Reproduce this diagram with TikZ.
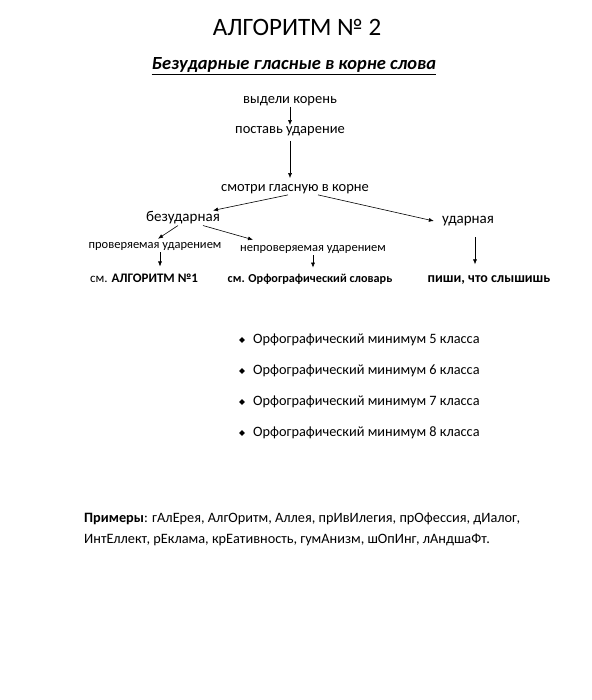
\documentclass[tikz,border=0pt]{standalone}
\usepackage{fontspec}
\setmainfont{Carlito}
\usetikzlibrary{arrows.meta,shapes.geometric,calc}
\tikzset{
  txt/.style={inner sep=1pt, font=\fontsize{14.5}{16}\selectfont},
  small/.style={inner sep=1pt, font=\fontsize{12.5}{14}\selectfont},
  bld/.style={inner sep=1pt, font=\fontsize{13}{15}\selectfont\bfseries},
  arr/.style={line width=0.6pt, -{Latex[length=5pt,width=4pt]}},
  bul/.style={diamond, fill=black, inner sep=0pt, minimum size=6pt},
  item/.style={anchor=west, inner sep=0pt, font=\fontsize{14.3}{16}\selectfont},
  ex/.style={anchor=west, inner sep=0pt, font=\fontsize{14.3}{16}\selectfont}
}
\begin{document}
\begin{tikzpicture}[x=1pt,y=-1pt]
\useasboundingbox (0,0) rectangle (591,700);
\fill[white] (0,0) rectangle (591,700);
\node[inner sep=0pt, font=\fontsize{25}{30}\selectfont] (title) at (297,27) {АЛГОРИТМ № 2};
\node[inner sep=0pt, font=\fontsize{18.5}{20}\selectfont\bfseries\itshape] (sub) at (294,65) {Безударные гласные в корне слова};
\draw[line width=0.9pt] ([yshift=-2pt]sub.south west) -- ([yshift=-2pt]sub.south east);

\node[txt] (n1) at (290,101) {выдели корень};
\node[txt] (n2) at (290,131) {поставь ударение};
\node[txt] (n3) at (295,189) {смотри гласную в корне};
\node[inner sep=1pt, font=\fontsize{15}{17}\selectfont] (bez) at (183,218) {безударная};
\node[inner sep=1pt, font=\fontsize{15}{17}\selectfont] (ud) at (468,221) {ударная};
\node[small] (prov) at (155,246) {проверяемая ударением};
\node[small] (neprov) at (313,249) {непроверяемая ударением};
\node[bld] (alg) at (144,278) {\mdseries см. \bfseries АЛГОРИТМ №1};
\node[bld, font=\fontsize{12.2}{14}\selectfont\bfseries] (slov) at (310,279) {см. Орфографический словарь};
\node[bld, font=\fontsize{14}{16}\selectfont\bfseries] (pishi) at (489,280) {пиши, что слышишь};

\draw[arr] (n1.south -| 290,0) -- (n2.north -| 290,0);
\draw[arr] ([yshift=-4pt]n2.south -| 290,0) -- ([yshift=5pt]n3.north -| 290,0);
\draw[arr] ([xshift=-7pt]n3.south) -- ([xshift=30pt]bez.north);
\draw[arr] ([xshift=23pt]n3.south) -- ([xshift=-7pt]ud.west);
\draw[arr] ([xshift=-5pt]bez.south) -- ([xshift=3pt,yshift=2pt]prov.north);
\draw[arr] ([xshift=20pt]bez.south) -- ([xshift=-60pt,yshift=4pt]neprov.north);
\draw[arr] ([yshift=-1pt]prov.south -| 160,0) -- ([yshift=6pt]alg.north -| 160,0);
\draw[arr] ([yshift=-1pt]neprov.south -| 313,0) -- ([yshift=5pt]slov.north -| 313,0);
\draw[arr] ([yshift=-10pt]ud.south -| 475,0) -- ([yshift=10pt]pishi.north -| 475,0);

\node[bul] (b1) at (242,340) {};
\node[bul] (b2) at (242,371) {};
\node[bul] (b3) at (242,402) {};
\node[bul] (b4) at (242,433) {};
\node[item] (i1) at (253,340) {Орфографический минимум 5 класса};
\node[item] (i2) at (253,371) {Орфографический минимум 6 класса};
\node[item] (i3) at (253,402) {Орфографический минимум 7 класса};
\node[item] (i4) at (253,433) {Орфографический минимум 8 класса};

\node[ex] (e1) at (84,519) {\textbf{Примеры}: гАлЕрея, АлгОритм, Аллея, прИвИлегия, прОфессия, дИалог,};
\node[ex] (e2) at (84,540) {ИнтЕллект, рЕклама, крЕативность, гумАнизм, шОпИнг, лАндшаФт.};
\end{tikzpicture}
\end{document}
